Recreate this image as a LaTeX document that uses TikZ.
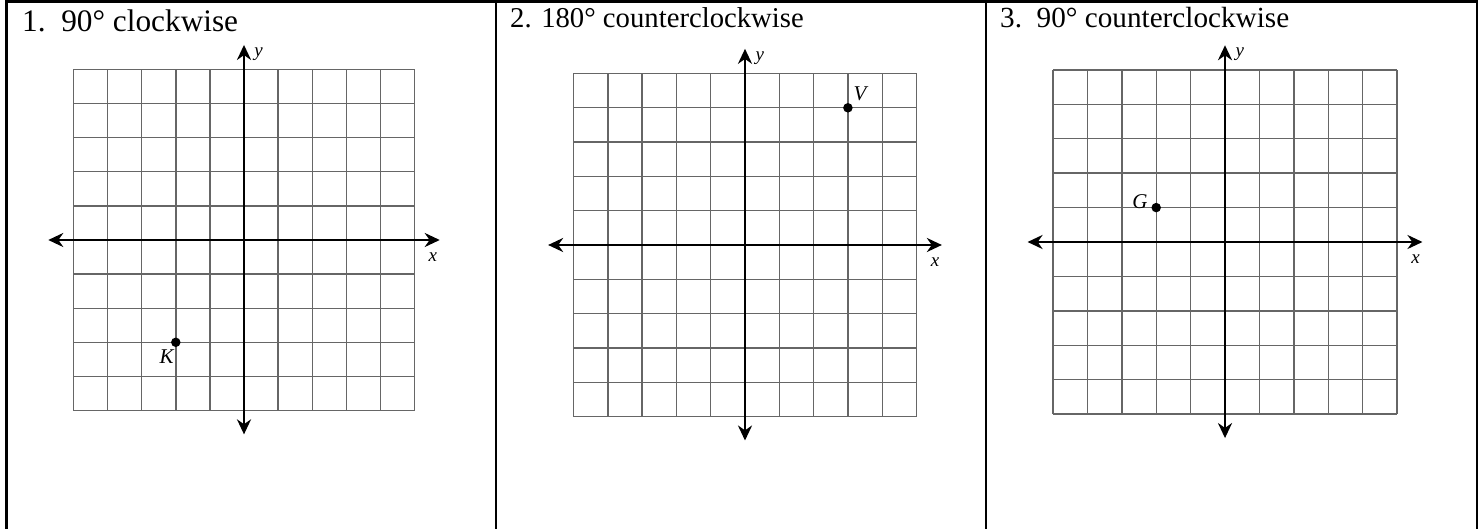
\documentclass[tikz,border=0pt]{standalone}
\usepackage{fontspec}
\setmainfont{Liberation Serif}
\usetikzlibrary{arrows.meta}
\tikzset{
  frame/.style={line width=2.2pt, black},
  titletext/.style={anchor=base west, inner sep=0pt, font=\fontsize{28.7}{34}\selectfont},
  gridline/.style={draw=black!60, line width=1.4pt},
  axis/.style={line width=2.5pt, {Stealth[length=15pt,width=14pt]}-{Stealth[length=15pt,width=14pt]}},
  axlabel/.style={font=\fontsize{19}{22}\selectfont\itshape, inner sep=0pt},
  ptdot/.style={circle, fill=black, inner sep=0pt, minimum size=9.5pt},
  ptlabel/.style={font=\fontsize{21}{24}\selectfont\itshape, inner sep=0pt},
  coordplane/.pic={
    \foreach \i in {-5,...,5} {
      \draw[gridline] (\i,-5) -- (\i,5);
      \draw[gridline] (-5,\i) -- (5,\i);
    }
    \coordinate (-L) at (-5.74,0);
    \coordinate (-R) at (5.74,0);
    \coordinate (-B) at (0,-5.7);
    \coordinate (-T) at (0,5.72);
    \draw[axis] (-L) -- (-R);
    \draw[axis] (-B) -- (-T);
    \node[axlabel] (-xl) at (5.54,-0.5) {x};
    \node[axlabel] (-yl) at (0.43,5.45) {y};
  }
}
\begin{document}
\begin{tikzpicture}[x=1pt,y=-1pt]
  \useasboundingbox (0,0) rectangle (1482,529);
  % table frame
  \coordinate (f1) at (6.5,529);
  \coordinate (f2) at (6.5,1.5);
  \coordinate (f3) at (1477,1.5);
  \coordinate (f4) at (1477,529);
  \coordinate (d1t) at (496,1.5);
  \coordinate (d1b) at (496,529);
  \coordinate (d2t) at (986,1.5);
  \coordinate (d2b) at (986,529);
  \draw[frame] (f1) -- (f2) -- (f3) -- (f4);
  \draw[frame] (d1t) -- (d1b);
  \draw[frame] (d2t) -- (d2b);
  % titles
  \node[titletext, font=\fontsize{31.3}{36}\selectfont] (t1) at (22,32) {1.\ \ 90° clockwise};
  \node[titletext] (t2) at (510,28) {2. 180° counterclockwise};
  \node[titletext, font=\fontsize{29.2}{34}\selectfont] (t3) at (1000,28) {3.\ \ 90° counterclockwise};
  % panel 1
  \begin{scope}[shift={(244,240)}, x=34.1pt, y=34.1pt]
    \pic (p1) at (0,0) {coordplane};
    \node[ptdot] (K) at (-2,-3) {};
    \node[ptlabel] (Klab) at (-2.27,-3.42) {K};
  \end{scope}
  % panel 2
  \begin{scope}[shift={(745,245)}, x=34.3pt, y=34.3pt]
    \pic (p2) at (0,0) {coordplane};
    \node[ptdot] (V) at (3,4) {};
    \node[ptlabel] (Vlab) at (3.35,4.4) {V};
  \end{scope}
  % panel 3
  \begin{scope}[shift={(1225,242)}, x=34.4pt, y=34.4pt]
    \pic (p3) at (0,0) {coordplane};
    \node[ptdot] (G) at (-2,1) {};
    \node[ptlabel] (Glab) at (-2.47,1.17) {G};
  \end{scope}
\end{tikzpicture}
\end{document}
